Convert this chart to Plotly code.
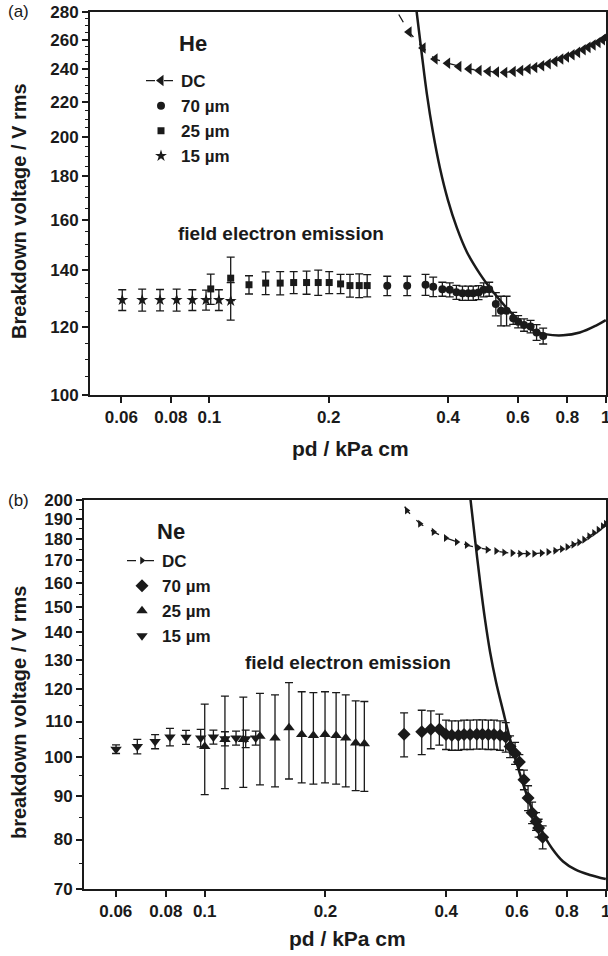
import math
import plotly.graph_objects as go

# ---------------- Panel (a): He ----------------
he_dc_x = [0.285, 0.319, 0.346, 0.371, 0.399, 0.426, 0.452, 0.479, 0.505, 0.530, 0.556, 0.584, 0.610,
           0.637, 0.662, 0.689, 0.716, 0.744, 0.770, 0.796, 0.822, 0.849, 0.877, 0.902, 0.929,
           0.956, 0.981, 1.0]
he_dc_y = [290, 265.3, 254.2, 246.7, 244.0, 241.8, 240.3, 239.3, 238.6, 238.3, 238.0, 238.6, 239.3,
           240.2, 241.2, 242.3, 243.6, 245.2, 246.7, 248.1, 249.6, 251.2, 253.0, 254.6, 256.2,
           258.0, 259.9, 261.5]

he_fit_x = [0.3332, 0.3436, 0.3537, 0.3663, 0.3815, 0.3996, 0.4211, 0.4462, 0.4813, 0.5199,
            0.5620, 0.6069, 0.6559, 0.7087, 0.7805, 0.8600, 0.9475, 1.0]
he_fit_y = [280.5, 249.6, 224.7, 202.9, 184.2, 169.0, 156.7, 146.9, 138.5, 131.9,
            126.4, 121.9, 119.0, 117.7, 117.4, 118.3, 120.6, 122.3]

he70_x = [0.281, 0.3155, 0.351, 0.367, 0.387, 0.404, 0.420, 0.435, 0.450, 0.463, 0.4775,
          0.492, 0.508, 0.528, 0.544, 0.562, 0.584, 0.601, 0.622, 0.646, 0.669, 0.695]
he70_y = [134.1, 134.1, 134.5, 133.8, 132.9, 132.7, 131.8, 131.5, 131.5, 131.5, 131.7,
          132.7, 132.9, 127.7, 125.4, 125.4, 122.9, 121.8, 120.7, 120.2, 118.3, 117.2]
he70_e = [3.5, 3.5, 3.8, 3.5, 2.5, 2.5, 2.5, 2.5, 2.5, 2.5, 2.5,
          2.5, 2.5, 4.0, 5.0, 5.0, 2.0, 2.0, 2.0, 2.0, 2.5, 2.5]

he25_x = [0.1008, 0.1132, 0.1259, 0.1387, 0.1509, 0.1632, 0.1759, 0.1882, 0.2006, 0.2143,
          0.2263, 0.2388, 0.2501]
he25_y = [133.0, 136.9, 134.5, 135.1, 135.1, 135.3, 135.3, 135.3, 135.3, 134.8, 134.2, 134.2, 134.2]
he25_e = [5.4, 8.0, 3.3, 4.1, 4.2, 4.0, 4.2, 4.6, 4.0, 3.5, 4.1, 4.3, 4.0]

he15_x = [0.0603, 0.0677, 0.0751, 0.0827, 0.0906, 0.0981, 0.1057, 0.1132]
he15_y = [129.1, 129.1, 129.1, 129.1, 129.1, 129.1, 129.1, 128.8]
he15_e = [3.6, 3.8, 3.7, 3.8, 3.6, 3.5, 3.6, 6.5]

# ---------------- Panel (b): Ne ----------------
ne_dc_x = [0.300, 0.319, 0.344, 0.372, 0.399, 0.425, 0.450, 0.481, 0.507, 0.533, 0.558, 0.585,
           0.611, 0.638, 0.663, 0.692, 0.719, 0.748, 0.777, 0.802, 0.830, 0.858, 0.883, 0.909,
           0.935, 0.959, 0.983, 1.0]
ne_dc_y = [205, 194.4, 187.6, 183.5, 180.5, 178.6, 177.1, 175.8, 174.9, 174.3, 173.6, 173.3,
           173.0, 173.0, 173.0, 173.3, 173.8, 174.4, 175.2, 176.2, 177.3, 178.4, 179.7, 181.3,
           183.0, 184.6, 186.3, 187.6]

ne_fit_x = [0.4600, 0.4721, 0.4858, 0.5000, 0.5146, 0.5325, 0.5544, 0.5771, 0.6009, 0.6290,
            0.6587, 0.6936, 0.7346, 0.7825, 0.8384, 0.9137, 1.0]
ne_fit_y = [200.1, 179.7, 160.4, 144.7, 132.7, 122.4, 113.2, 104.9, 98.0, 91.5,
            86.2, 81.7, 78.1, 75.4, 73.8, 72.7, 71.9]

ne70_x = [0.3141, 0.3476, 0.3662, 0.3846, 0.3996, 0.413, 0.429, 0.4432, 0.4588, 0.4768, 0.4925,
          0.5095, 0.5264, 0.5449, 0.563, 0.5771, 0.594, 0.6088, 0.625, 0.640, 0.655, 0.670,
          0.680, 0.696]
ne70_y = [106.3, 107.0, 107.7, 107.7, 106.2, 106.0, 106.0, 106.2, 106.2, 106.3, 106.3,
          106.2, 106.2, 106.0, 105.5, 102.8, 101.0, 98.6, 94.0, 89.5, 86.0, 84.0, 82.5, 80.5]
ne70_e = [6.3, 6.4, 5.5, 4.5, 4.2, 4.2, 4.2, 4.2, 4.2, 4.2, 4.2,
          4.2, 4.2, 4.2, 4.2, 3.0, 3.0, 2.0, 2.5, 3.0, 2.5, 2.0, 2.0, 2.5]

ne25_x = [0.100, 0.1123, 0.1248, 0.1373, 0.1497, 0.1622, 0.1745, 0.1866, 0.1995, 0.2126,
          0.2247, 0.2379, 0.250]
ne25_y = [102.8, 104.8, 104.8, 105.7, 105.2, 108.2, 106.2, 105.9, 106.2, 105.9, 105.2, 103.8, 103.6]
ne25_e = [12.5, 13.0, 12.7, 13.0, 13.0, 14.0, 13.0, 13.0, 13.0, 13.0, 13.0, 12.5, 12.5]

ne15_x = [0.0601, 0.0679, 0.0752, 0.0819, 0.0898, 0.0977, 0.1051, 0.1123, 0.1197, 0.1265, 0.134]
ne15_y = [102.1, 102.8, 104.2, 105.5, 105.4, 105.2, 105.5, 105.0, 105.2, 105.0, 105.2]
ne15_e = [1.2, 2.0, 2.0, 2.5, 2.0, 2.5, 2.0, 2.0, 2.0, 2.5, 2.0]

x_ticks = [0.06, 0.08, 0.1, 0.2, 0.4, 0.6, 0.8, 1]
x_ticktext = ["0.06", "0.08", "0.1", "0.2", "0.4", "0.6", "0.8", "1"]
ya_ticks = [100, 120, 140, 160, 180, 200, 220, 240, 260, 280]
ya_minor = [v for v in range(105, 280, 5) if v % 20 != 0]
yb_ticks = [70, 80, 90, 100, 110, 120, 130, 140, 150, 160, 170, 180, 190, 200]
yb_minor = [v for v in range(75, 200, 10)]

INK = "#1a1a1a"
FONT = "Liberation Sans, Arial, sans-serif"

fig = go.Figure()


def err(e):
    return dict(type="data", array=e, visible=True, color=INK, thickness=1.3, width=4)


# Panel (a) traces
fig.add_trace(go.Scatter(x=he_fit_x, y=he_fit_y, mode="lines", line=dict(color=INK, width=2.5, shape="spline"),
                         showlegend=False, xaxis="x", yaxis="y"))
fig.add_trace(go.Scatter(x=he_dc_x, y=he_dc_y, mode="lines+markers", name="DC",
                         line=dict(color=INK, width=1.3, dash="dash"),
                         marker=dict(symbol="triangle-left", size=10, color=INK),
                         legend="legend", xaxis="x", yaxis="y"))
fig.add_trace(go.Scatter(x=he70_x, y=he70_y, mode="markers", name="70 µm", error_y=err(he70_e),
                         marker=dict(symbol="circle", size=8, color=INK), legend="legend", xaxis="x", yaxis="y"))
fig.add_trace(go.Scatter(x=he25_x, y=he25_y, mode="markers", name="25 µm", error_y=err(he25_e),
                         marker=dict(symbol="square", size=7, color=INK), legend="legend", xaxis="x", yaxis="y"))
fig.add_trace(go.Scatter(x=he15_x, y=he15_y, mode="markers", name="15 µm", error_y=err(he15_e),
                         marker=dict(symbol="star", size=9, color=INK), legend="legend", xaxis="x", yaxis="y"))

# Panel (b) traces
fig.add_trace(go.Scatter(x=ne_fit_x, y=ne_fit_y, mode="lines", line=dict(color=INK, width=2.5, shape="spline"),
                         showlegend=False, xaxis="x2", yaxis="y2"))
fig.add_trace(go.Scatter(x=ne_dc_x, y=ne_dc_y, mode="lines+markers", name="DC",
                         line=dict(color=INK, width=1.3, dash="dash"),
                         marker=dict(symbol="triangle-right", size=7, color=INK),
                         legend="legend2", xaxis="x2", yaxis="y2"))
fig.add_trace(go.Scatter(x=ne70_x, y=ne70_y, mode="markers", name="70 µm", error_y=err(ne70_e),
                         marker=dict(symbol="diamond", size=10, color=INK), legend="legend2", xaxis="x2", yaxis="y2"))
fig.add_trace(go.Scatter(x=ne25_x, y=ne25_y, mode="markers", name="25 µm", error_y=err(ne25_e),
                         marker=dict(symbol="triangle-up", size=10, color=INK), legend="legend2", xaxis="x2", yaxis="y2"))
fig.add_trace(go.Scatter(x=ne15_x, y=ne15_y, mode="markers", name="15 µm", error_y=err(ne15_e),
                         marker=dict(symbol="triangle-down", size=10, color=INK), legend="legend2", xaxis="x2", yaxis="y2"))

W, H = 608, 956
xa_dom = [90 / W, 606 / W]
ya_dom = [1 - 395 / H, 1 - 12 / H]
xb_dom = [84 / W, 606 / W]
yb_dom = [1 - 889 / H, 1 - 500 / H]

xr = [math.log10(0.05), 0.0005]
yar = [2.0, math.log10(280)]
ybr = [math.log10(70), math.log10(200)]

tickfont = dict(family=FONT, size=17, color=INK, weight="bold")


def xaxis(dom, anchor):
    return dict(type="log", domain=dom, anchor=anchor, range=xr, tickvals=x_ticks, ticktext=x_ticktext,
                ticks="outside", ticklen=6, tickwidth=1.5, tickcolor=INK, showline=True, linewidth=1.8,
                linecolor=INK, mirror=True, showgrid=False, zeroline=False, tickfont=tickfont, automargin=False,
                ticklabeloverflow="allow")


def yaxis(dom, anchor, rng, tv, minor):
    return dict(type="log", domain=dom, anchor=anchor, range=rng, tickvals=tv, ticktext=[str(v) for v in tv],
                ticks="outside", ticklen=6, tickwidth=1.5, tickcolor=INK, showline=True, linewidth=1.8,
                linecolor=INK, mirror=True, showgrid=False, zeroline=False, tickfont=tickfont, automargin=False,
                minor=dict(tickvals=minor, ticks="outside", ticklen=3.5, tickwidth=1.2, tickcolor=INK, showgrid=False))


def xtop(over, anchor):
    return dict(type="log", overlaying=over, side="top", anchor=anchor, range=xr, tickvals=x_ticks,
                ticks="inside", ticklen=5, tickwidth=1.2, tickcolor=INK, showticklabels=False,
                showline=False, showgrid=False, zeroline=False)


def yright(over, anchor, rng, tv, minor):
    return dict(type="log", overlaying=over, side="right", anchor=anchor, range=rng, tickvals=tv,
                ticks="inside", ticklen=5, tickwidth=1.2, tickcolor=INK, showticklabels=False,
                showline=False, showgrid=False, zeroline=False,
                minor=dict(tickvals=minor, ticks="inside", ticklen=3, tickwidth=1.0, tickcolor=INK, showgrid=False))


legend_font = dict(family=FONT, size=17, color=INK, weight="bold")

fig.update_layout(
    width=W, height=H, margin=dict(l=0, r=0, t=0, b=0),
    paper_bgcolor="white", plot_bgcolor="white",
    xaxis=xaxis(xa_dom, "y"), yaxis=yaxis(ya_dom, "x", yar, ya_ticks, ya_minor),
    xaxis2=xaxis(xb_dom, "y2"), yaxis2=yaxis(yb_dom, "x2", ybr, yb_ticks, yb_minor),
    xaxis3=xtop("x", "y"), yaxis3=yright("y", "x", yar, ya_ticks, ya_minor),
    xaxis4=xtop("x2", "y2"), yaxis4=yright("y2", "x2", ybr, yb_ticks, yb_minor),
    legend=dict(x=141 / W, y=1 - 63 / H, xanchor="left", yanchor="top", bgcolor="rgba(0,0,0,0)",
                font=legend_font, tracegroupgap=0, itemwidth=30),
    legend2=dict(x=122 / W, y=1 - 543 / H, xanchor="left", yanchor="top", bgcolor="rgba(0,0,0,0)",
                 font=legend_font, tracegroupgap=0, itemwidth=30),
    showlegend=True,
)

ann_font = dict(family=FONT, size=21, color=INK, weight="bold")
title_font = dict(family=FONT, size=20, color=INK, weight="bold")


def ann(text, x, y, font, xanchor="center", angle=0):
    return dict(text=text, x=x / W, y=1 - y / H, xref="paper", yref="paper", xanchor=xanchor,
                yanchor="middle", showarrow=False, textangle=angle, font=font)


annotations = [
    ann("(a)", 6, 12, dict(family=FONT, size=17, color=INK), xanchor="left"),
    ann("(b)", 6, 500, dict(family=FONT, size=17, color=INK), xanchor="left"),
    ann("He", 193, 44, dict(family=FONT, size=22, color=INK, weight="bold")),
    ann("Ne", 171, 531, dict(family=FONT, size=22, color=INK, weight="bold")),
    ann("field electron emission", 176, 233, dict(family=FONT, size=19, color=INK, weight="bold"), xanchor="left"),
    ann("field electron emission", 243, 662, dict(family=FONT, size=19, color=INK, weight="bold"), xanchor="left"),
    ann("pd / kPa cm", 350, 448, ann_font),
    ann("pd / kPa cm", 347, 938, ann_font),
    ann("Breakdown voltage / V rms", 19, 211, title_font, angle=-90),
    ann("breakdown voltage / V rms", 19, 713, title_font, angle=-90),
]
fig.update_layout(annotations=annotations)

fig.write_html("out.html", config={"displayModeBar": False},
               post_script="document.body.style.margin='0';")
